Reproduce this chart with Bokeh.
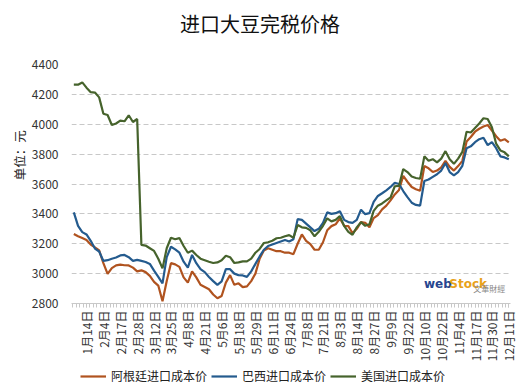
import math
from bokeh.plotting import figure
from bokeh.layouts import column, row
from bokeh.models import Range1d, FixedTicker, Label, Legend, LegendItem
from bokeh.embed import file_html
from bokeh.resources import INLINE

title_text = "进口大豆完税价格"
y_label = "单位：元"
series_names = ["阿根廷进口成本价", "巴西进口成本价", "美国进口成本价"]
tick_labels = ["1月14日", "2月4日", "2月17日", "2月28日", "3月12日", "3月25日", "4月8日",
               "4月21日", "5月6日", "5月18日", "5月29日", "6月11日", "6月24日", "7月8日",
               "7月21日", "8月3日", "8月14日", "8月27日", "9月9日", "9月22日", "10月10日",
               "10月22日", "11月4日", "11月17日", "11月30日", "12月11日"]
y_ticks = [2800, 3000, 3200, 3400, 3600, 3800, 4000, 4200, 4400]

argentina = [3265, 3250, 3238, 3225, 3195, 3176, 3155, 3070, 2998, 3037,
             3055, 3060, 3056, 3055, 3040, 3015, 3022, 3010, 2985, 2945,
             2920, 2815, 2950, 3070, 3062, 3045, 2975, 2940, 3015, 2975,
             2925, 2910, 2895, 2860, 2835, 2850, 2940, 2990, 2925, 2935,
             2910, 2915, 2950, 3000, 3100, 3155, 3170, 3160, 3150, 3150,
             3140, 3140, 3130, 3200, 3262, 3220, 3198, 3160, 3160, 3210,
             3290, 3318, 3330, 3370, 3320, 3318, 3270, 3300, 3345, 3340,
             3310, 3372, 3392, 3430, 3455, 3490, 3530, 3560, 3654, 3615,
             3580, 3565, 3555, 3720, 3705, 3680, 3690, 3712, 3755, 3715,
             3690, 3720, 3755, 3885, 3915, 3950, 3970, 3985, 3995, 3958,
             3920, 3890, 3900, 3878]

brazil = [3410, 3320, 3278, 3262, 3220, 3168, 3148, 3085, 3090, 3100,
          3108, 3122, 3125, 3110, 3085, 3092, 3085, 3078, 3065, 3020,
          2978, 2935, 3110, 3180, 3162, 3140, 3080, 3040, 3125, 3070,
          3030, 3010, 2978, 2950, 2925, 2948, 3030, 3030, 3000, 2990,
          2988, 2978, 3015, 3065, 3115, 3160, 3185, 3195, 3205, 3215,
          3225, 3215, 3230, 3365, 3360, 3335, 3310, 3285, 3300, 3340,
          3410, 3400, 3405, 3418, 3360, 3345, 3340, 3360, 3428, 3398,
          3405, 3480, 3520, 3538, 3558, 3580, 3608, 3600, 3553, 3512,
          3475, 3460, 3455, 3620, 3630, 3648, 3665, 3690, 3740, 3680,
          3658, 3680, 3722, 3840, 3852, 3880, 3900, 3910, 3860, 3880,
          3840, 3785, 3778, 3765]

usa = [4265, 4265, 4280, 4245, 4215, 4212, 4180, 4070, 4062, 3995,
       4005, 4024, 4020, 4060, 4015, 4035, 3192, 3188, 3170, 3152,
       3100, 3035, 3170, 3240, 3230, 3238, 3185, 3140, 3154, 3125,
       3100, 3090, 3080, 3071, 3075, 3090, 3120, 3110, 3071, 3075,
       3082, 3082, 3100, 3140, 3165, 3205, 3210, 3220, 3237, 3240,
       3250, 3258, 3240, 3325, 3310, 3306, 3290, 3250, 3280, 3320,
       3370, 3350, 3360, 3385, 3320, 3280, 3260, 3310, 3345, 3320,
       3330, 3420, 3455, 3470, 3490, 3510, 3585, 3587, 3700, 3680,
       3650, 3640, 3635, 3785, 3755, 3766, 3745, 3770, 3820, 3765,
       3735, 3770, 3815, 3950, 3945, 3975, 4005, 4040, 4035, 3980,
       3870, 3825, 3812, 3785]

series = [argentina, brazil, usa]
colors = ["#B0531F", "#245B8E", "#46632C"]
FONT = "Noto Sans CJK SC"

n = len(argentina)
xs = list(range(n))
tick_pos = [3 + 4 * k for k in range(len(tick_labels))]
minor_pos = [3 + 0.8 * k for k in range(-4, 126) if -0.55 <= 3 + 0.8 * k <= 103.4]


def blank_fig(w, h):
    f = figure(width=w, height=h, output_backend="svg", toolbar_location=None,
               x_range=Range1d(0, w), y_range=Range1d(0, h),
               x_axis_location=None, y_axis_location=None, min_border=0)
    f.grid.visible = False
    f.outline_line_color = None
    f.background_fill_color = "white"
    f.border_fill_color = "white"
    return f


# ---- title strip ----
title_fig = blank_fig(528, 56)
title_fig.add_layout(Label(x=259.5, y=33, text=title_text, text_align="center",
                           text_baseline="middle", text_font=FONT, text_font_size="20px",
                           text_color="#111111"))

# ---- y label strip ----
ylab_fig = blank_fig(28, 311)
ylab_fig.add_layout(Label(x=19, y=193, text=y_label, angle=math.pi / 2, text_align="center",
                          text_baseline="middle", text_font=FONT, text_font_size="12.5px",
                          text_color="#222222"))

# ---- main chart ----
p = figure(width=500, height=311, output_backend="svg", toolbar_location=None,
           x_range=Range1d(-0.55, 103.4), y_range=Range1d(2800, 4400),
           min_border_left=34, min_border_right=18, min_border_top=8, min_border_bottom=64)
p.outline_line_color = None
p.background_fill_color = "white"
p.border_fill_color = "white"

for vals, c in zip(series, colors):
    p.line(xs, vals, line_color=c, line_width=2.2)

p.xgrid.visible = False
p.ygrid.grid_line_color = "#c8c8c8"
p.ygrid.grid_line_dash = "5 3"
p.ygrid.grid_line_width = 1

p.yaxis.ticker = FixedTicker(ticks=y_ticks)
p.yaxis.axis_line_color = None
p.yaxis.major_tick_line_color = None
p.yaxis.minor_tick_line_color = None
p.yaxis.major_label_standoff = 7
p.yaxis.major_label_text_font = FONT
p.yaxis.major_label_text_font_size = "12px"
p.yaxis.major_label_text_color = "#333333"

p.xaxis.ticker = FixedTicker(ticks=tick_pos, minor_ticks=minor_pos)
p.xaxis.major_label_overrides = {t: l for t, l in zip(tick_pos, tick_labels)}
p.xaxis.major_label_orientation = math.pi / 2
p.xaxis.axis_line_color = "#c8c8c8"
p.xaxis.major_tick_line_color = "#c8c8c8"
p.xaxis.minor_tick_line_color = "#c8c8c8"
p.xaxis.major_tick_in = 0
p.xaxis.major_tick_out = 4
p.xaxis.minor_tick_in = 0
p.xaxis.minor_tick_out = 4
p.xaxis.major_label_standoff = 3
p.xaxis.major_label_text_font = FONT
p.xaxis.major_label_text_font_size = "12px"
p.xaxis.major_label_text_color = "#333333"

# watermark logo text
p.add_layout(Label(x=82.9, y=2928, text="web", text_align="left", text_baseline="middle",
                   text_font="DejaVu Sans", text_font_size="12px", text_font_style="bold",
                   text_color="#27458F"))
p.add_layout(Label(x=88.9, y=2928, text="Stock", text_align="left", text_baseline="middle",
                   text_font="DejaVu Sans", text_font_size="12px", text_font_style="bold",
                   text_color="#E8A21A"))
p.add_layout(Label(x=94.6, y=2901, text="文華財經", text_align="left", text_baseline="middle",
                   text_font=FONT, text_font_size="8px", text_color="#888888"))

# ---- legend strip (series drawn out of its visible range; only the legend shows) ----
leg_fig = blank_fig(528, 25)
leg_renderers = [leg_fig.line(xs, vals, line_color=c, line_width=2.2) for vals, c in zip(series, colors)]
legend = Legend(items=[LegendItem(label=nm, renderers=[r]) for nm, r in zip(series_names, leg_renderers)],
                orientation="horizontal", location=(80, 8))
legend.glyph_width = 26
legend.glyph_height = 14
legend.label_height = 14
legend.label_standoff = 5
legend.spacing = 4
legend.padding = 0
legend.margin = 0
legend.border_line_color = None
legend.background_fill_alpha = 0
legend.label_text_font = FONT
legend.label_text_font_size = "12px"
legend.label_text_color = "#222222"
leg_fig.add_layout(legend, "center")

layout = column(title_fig, row(ylab_fig, p), leg_fig)
open("out.html", "w").write(file_html(layout, INLINE))
